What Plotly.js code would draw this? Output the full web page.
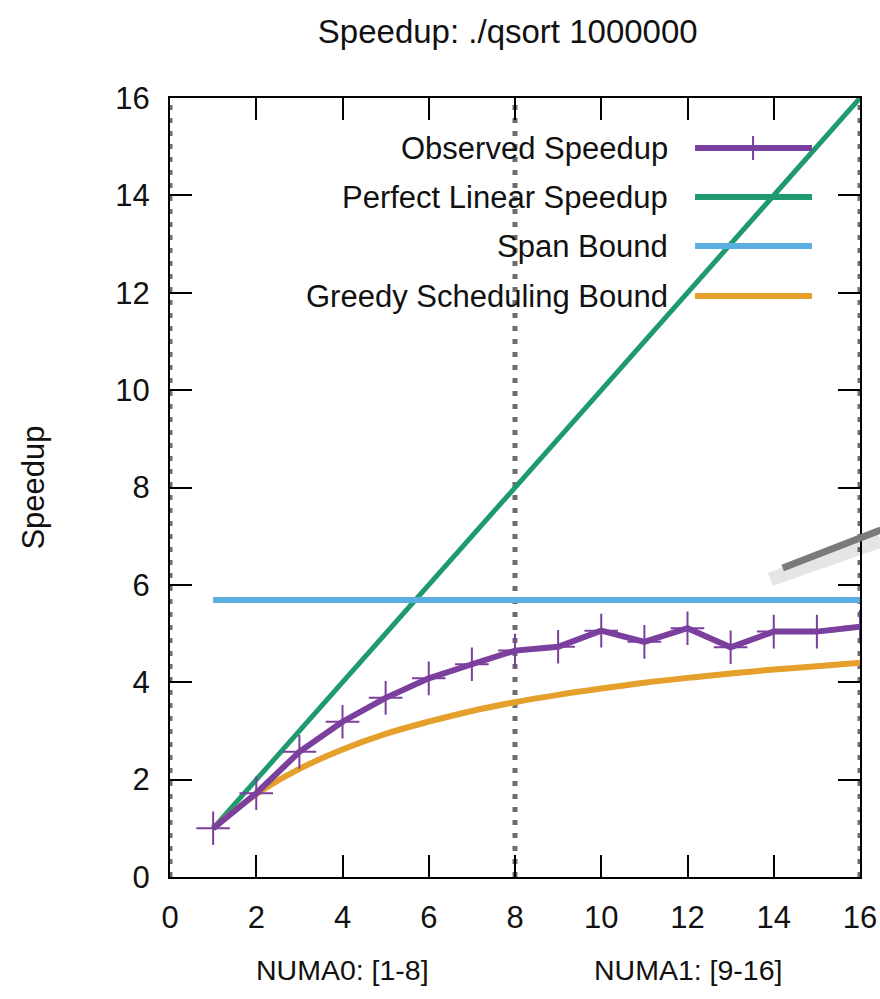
<!DOCTYPE html>
<html>
<head>
<meta charset="utf-8">
<script src="https://cdn.plot.ly/plotly-3.0.1.min.js"></script>
<style>html,body{margin:0;padding:0;background:#fff;}#chart{width:880px;height:999px;}</style>
</head>
<body>
<div id="chart"></div>
<script>
// ---- data ----
const cores = [1, 2, 3, 4, 5, 6, 7, 8, 9, 10, 11, 12, 13, 14, 15, 16];
const observed = [1.00, 1.72, 2.57, 3.19, 3.68, 4.08, 4.37, 4.65, 4.73, 5.06, 4.83, 5.11, 4.72, 5.04, 5.04, 5.14];
const perfect = [1, 2, 3, 4, 5, 6, 7, 8, 9, 10, 11, 12, 13, 14, 15, 16];
const spanBound = [5.69, 5.69, 5.69, 5.69, 5.69, 5.69, 5.69, 5.69, 5.69, 5.69, 5.69, 5.69, 5.69, 5.69, 5.69, 5.69];
const greedy = [1.00, 1.70, 2.22, 2.62, 2.94, 3.19, 3.41, 3.59, 3.74, 3.87, 3.99, 4.09, 4.18, 4.26, 4.33, 4.40];
const seriesNames = ["Observed Speedup", "Perfect Linear Speedup", "Span Bound", "Greedy Scheduling Bound"];
const seriesColors = ["#7b3f9e", "#1f9a6e", "#5aafe0", "#e4a02a"];
const numaBoundaries = [0, 8, 16];
const numaLabels = ["NUMA0: [1-8]", "NUMA1: [9-16]"];
const numaLabelCenters = [4, 12];
const tickVals = [0, 2, 4, 6, 8, 10, 12, 14, 16];

const FONT = "Liberation Sans, Arial, sans-serif";

const traces = [
  {x: cores, y: perfect, mode: "lines", name: seriesNames[1], line: {color: seriesColors[1], width: 5}},
  {x: cores, y: spanBound, mode: "lines", name: seriesNames[2], line: {color: seriesColors[2], width: 6}},
  {x: cores, y: greedy, mode: "lines", name: seriesNames[3], line: {color: seriesColors[3], width: 6, shape: "spline"}},
  {x: cores, y: observed, mode: "lines+markers", name: seriesNames[0],
   line: {color: seriesColors[0], width: 6},
   marker: {symbol: "cross-thin", size: 24, line: {color: seriesColors[0], width: 2}}}
];

const shapes = [];
const annotations = [];

// NUMA boundary dotted lines
numaBoundaries.forEach(b => {
  shapes.push({type: "line", xref: "x", yref: "paper", x0: b, x1: b, y0: 0, y1: 1,
    line: {color: "#6e6e6e", width: 5, dash: "5px,8px"}, layer: "below"});
});

// custom legend (text left, sample right, gnuplot style)
const legY = [0.9358, 0.8729, 0.8100, 0.7458];
seriesNames.forEach((n, i) => {
  annotations.push({xref: "paper", yref: "paper", x: 0.7246, y: legY[i], text: n,
    showarrow: false, xanchor: "right", yanchor: "middle",
    font: {family: FONT, size: 31, color: "#111"}});
  shapes.push({type: "line", xref: "paper", yref: "paper", x0: 0.7609, x1: 0.9304, y0: legY[i], y1: legY[i],
    line: {color: seriesColors[i], width: 6}});
});
// legend cross marker for observed
shapes.push({type: "line", xref: "paper", yref: "paper", x0: 0.845, x1: 0.845, y0: legY[0] - 0.0154, y1: legY[0] + 0.0154,
  line: {color: seriesColors[0], width: 2}});

// NUMA labels below x axis
numaLabels.forEach((t, i) => {
  annotations.push({xref: "x", yref: "paper", x: numaLabelCenters[i], y: -0.119, text: t,
    showarrow: false, xanchor: "center", yanchor: "middle",
    font: {family: FONT, size: 28.5, color: "#111"}});
});

// grey pointer (stylus artifact)
shapes.push({type: "line", xref: "paper", yref: "paper", x0: 0.870, y0: 0.382, x1: 1.03, y1: 0.432,
  line: {color: "rgba(0,0,0,0.10)", width: 14}});
shapes.push({type: "line", xref: "paper", yref: "paper", x0: 0.888, y0: 0.3967, x1: 1.03, y1: 0.4454,
  line: {color: "#7a7a7a", width: 7}});

const axisCommon = {
  range: [0, 16], tickvals: tickVals, ticks: "inside", ticklen: 22, tickwidth: 2, tickcolor: "#000",
  showline: true, linecolor: "#000", linewidth: 2, mirror: "ticks", showgrid: false, zeroline: false,
  tickfont: {family: FONT, size: 31, color: "#111"}
};

const layout = {
  width: 880, height: 999,
  paper_bgcolor: "#fff", plot_bgcolor: "#fff",
  margin: {l: 170, r: 20, t: 98, b: 122},
  showlegend: false,
  title: {text: "Speedup: ./qsort 1000000", x: 0.577, xanchor: "center", y: 0.969, yanchor: "middle",
    font: {family: FONT, size: 33, color: "#111"}},
  xaxis: Object.assign({}, axisCommon, {ticklabelstandoff: 12}),
  yaxis: Object.assign({}, axisCommon, {ticklabelstandoff: 12,
    title: {text: "Speedup", standoff: 61, font: {family: FONT, size: 31, color: "#111"}}}),
  shapes: shapes,
  annotations: annotations
};

Plotly.newPlot("chart", traces, layout, {displayModeBar: false, staticPlot: true});
</script>
</body>
</html>
